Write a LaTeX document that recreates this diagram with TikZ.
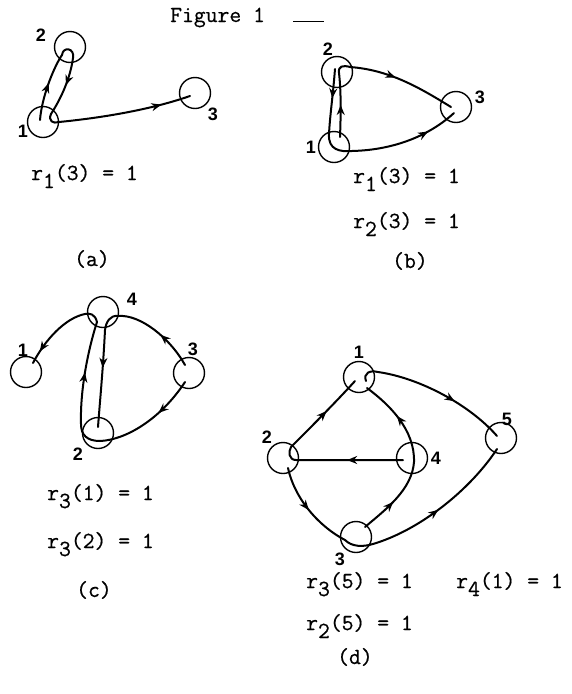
\documentclass[tikz,border=0pt]{standalone}
\usepackage{fontspec}
\newfontfamily\typefont[FakeBold=0.6]{Latin Modern Mono}
\newfontfamily\numfont{Liberation Sans}
\usetikzlibrary{arrows.meta,decorations.markings,calc}

\newcommand{\rsub}[1]{\raisebox{-8pt}{#1}}

\begin{document}
\begin{tikzpicture}[x=1pt, y=-1pt,
  vtx/.style={draw, circle, line width=1.4pt, minimum size=31pt, inner sep=0pt},
  num/.style={font=\numfont\bfseries\fontsize{18}{18}\selectfont, inner sep=0pt},
  lbl/.style={font=\typefont\fontsize{23}{23}\selectfont, inner sep=0pt, anchor=base west},
  edge/.style={line width=2pt, line cap=round},
  arr/.style={postaction={decorate, decoration={markings,
    mark=at position #1 with {\arrow{Stealth[length=10pt, width=8pt]}}}}}
]
\useasboundingbox (0,0) rectangle (572,694);

\node[lbl] (title) at (170,22) {Figure 1};
\draw[line width=1pt] (293,21) -- (324,21);

% (a)
\node[vtx] (a1) at (43,122) {};
\node[vtx] (a2) at (70,47) {};
\node[vtx] (a3) at (195,93) {};
\node[num] (a1n) at (23,131) {1};
\node[num] (a2n) at (41,35) {2};
\node[num] (a3n) at (213,114) {3};

\draw[edge, arr=0.55] ($(a1)+(-3,-2)$) .. controls (42,95) and (55,65) .. ($(a2)+(-8,8)$);
\draw[edge, arr=0.6] ($(a2)+(-8,8)$) .. controls (63,46) and (75,48) .. ($(a2)+(3,11)$)
  .. controls (70,80) and (60,100) .. ($(a1)+(8,-8)$);
\draw[edge, arr=0.8] ($(a1)+(8,-8)$) .. controls (48,121) and (53,124) .. (59,122)
  .. controls (100,118) and (150,110) .. ($(a3)+(-5,3)$);

\node[lbl] (ra) at (31,180) {r\rsub{1}(3) = 1};
\node[lbl] (capa) at (74,266) {(a)};

% (b)
\node[vtx] (b1) at (334,147) {};
\node[vtx] (b2) at (337,72) {};
\node[vtx] (b3) at (456,107) {};
\node[num] (b1n) at (311,147) {1};
\node[num] (b2n) at (328,49) {2};
\node[num] (b3n) at (480,97) {3};

\draw[edge, arr=0.45] ($(b2)+(-2,-3)$) .. controls (333,95) and (330,115) .. ($(b1)+(-5,-13)$);
\draw[edge, arr=0.78] ($(b1)+(-5,-13)$) .. controls (328,150) and (340,152) .. (352,151)
  .. controls (395,150) and (430,135) .. ($(b3)+(-2,6)$);
\draw[edge, arr=0.5] ($(b1)+(6,-10)$) .. controls (341,112) and (341,90) .. ($(b2)+(2,1)$);
\draw[edge, arr=0.5] ($(b2)+(2,1)$) .. controls (338,66) and (343,65) .. (350,67)
  .. controls (390,70) and (420,88) .. ($(b3)+(-5,0)$);

\node[lbl] (rb1) at (353,183) {r\rsub{1}(3) = 1};
\node[lbl] (rb2) at (353,228) {r\rsub{2}(3) = 1};
\node[lbl] (capb) at (392,268) {(b)};

% (c)
\node[vtx] (c1) at (26,372) {};
\node[vtx] (c2) at (98,433) {};
\node[vtx] (c3) at (189,373) {};
\node[vtx] (c4) at (103,312) {};
\node[num] (c1n) at (23,350) {1};
\node[num] (c2n) at (78,454) {2};
\node[num] (c3n) at (193,349) {3};
\node[num] (c4n) at (132,299) {4};

\draw[edge, arr=0.45] ($(c3)+(-4,-8)$) .. controls (170,338) and (140,314) .. ($(c4)+(15,4)$);
\draw[edge, arr=0.5] ($(c4)+(15,4)$) .. controls (110,315) and (106,322) .. (105,330)
  .. controls (103,370) and (100,400) .. ($(c2)+(0,-6)$);
\draw[edge, arr=0.3] ($(c3)+(-4,9)$) .. controls (160,420) and (125,440) .. (100,441)
  .. controls (87,441) and (81,435) .. ($(c2)+(-17,-9)$);
\draw[edge, arr=0.5] ($(c2)+(-17,-9)$) .. controls (80,390) and (88,350) .. ($(c4)+(-6,10)$);
\draw[edge, arr=0.85] ($(c4)+(-6,10)$) .. controls (95,314) and (90,313) .. (85,314)
  .. controls (65,318) and (45,340) .. ($(c1)+(7,-9)$);

\node[lbl] (rc1) at (47,500) {r\rsub{3}(1) = 1};
\node[lbl] (rc2) at (47,548) {r\rsub{3}(2) = 1};
\node[lbl] (capc) at (76,597) {(c)};

% (d)
\node[vtx] (d1) at (359,377) {};
\node[vtx] (d2) at (283,458) {};
\node[vtx] (d3) at (356,537) {};
\node[vtx] (d4) at (412,458) {};
\node[vtx] (d5) at (501,438) {};
\node[num] (d1n) at (359,352) {1};
\node[num] (d2n) at (267,437) {2};
\node[num] (d3n) at (340,559) {3};
\node[num] (d4n) at (436,458) {4};
\node[num] (d5n) at (507,419) {5};

\draw[edge, arr=0.45] ($(d4)+(-9,2)$) -- (296,460) .. controls (289,460) and (288,452) .. ($(d2)+(8,-11)$);
\draw[edge, arr=0.55] ($(d2)+(8,-11)$) .. controls (310,428) and (335,403) .. ($(d1)+(-4,4)$);
\draw[edge, arr=0.65] ($(d1)+(7,4)$) .. controls (363,373) and (370,370) .. (378,372)
  .. controls (420,378) and (470,405) .. ($(d5)+(-4,-2)$);
\draw[edge, arr=0.5] ($(d2)+(5,10)$) .. controls (295,500) and (320,527) .. ($(d3)+(-11,3)$);
\draw[edge, arr=0.55] ($(d3)+(-11,3)$) .. controls (352,547) and (363,547) .. (373,544)
  .. controls (420,530) and (470,490) .. ($(d5)+(-4,11)$);
\draw[edge, arr=0.45] ($(d3)+(9,-10)$) .. controls (385,510) and (412,490) .. ($(d4)+(2,4)$);
\draw[edge, arr=0.55] ($(d4)+(2,4)$) .. controls (415,430) and (390,405) .. ($(d1)+(8,11)$);

\node[lbl] (rd1) at (306,588) {r\rsub{3}(5) = 1};
\node[lbl] (rd2) at (456,588) {r\rsub{4}(1) = 1};
\node[lbl] (rd3) at (306,630) {r\rsub{2}(5) = 1};
\node[lbl] (capd) at (337,664) {(d)};
\end{tikzpicture}
\end{document}
